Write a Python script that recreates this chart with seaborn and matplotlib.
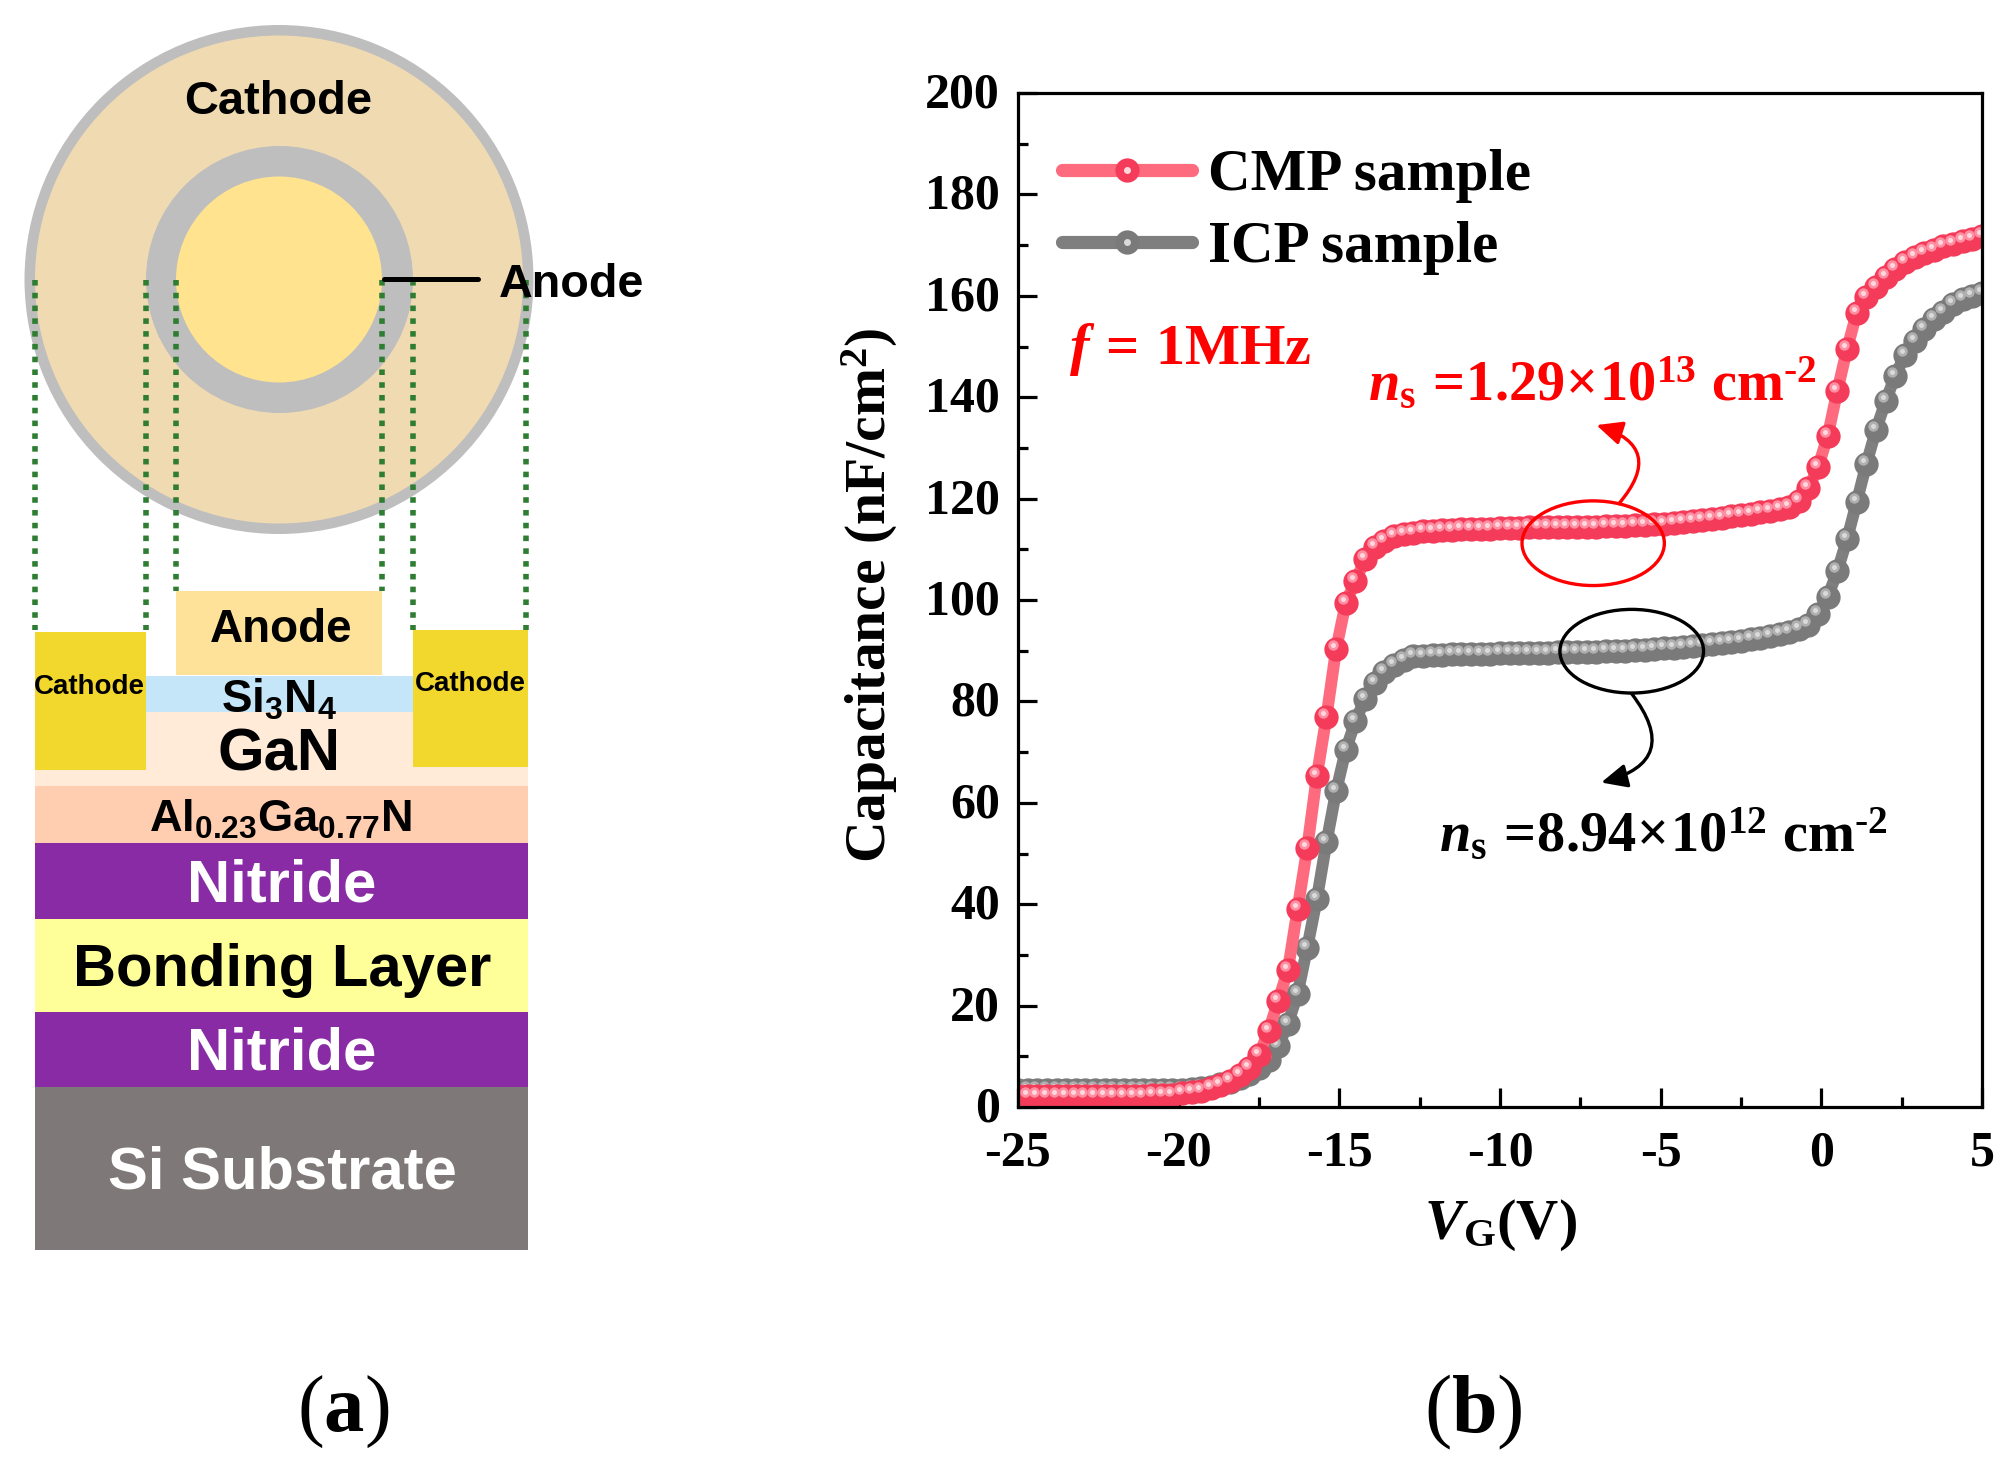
import numpy as np
import pandas as pd
import seaborn as sns
import matplotlib
matplotlib.use("Agg")
import matplotlib.pyplot as plt
from matplotlib.lines import Line2D
from matplotlib.legend_handler import HandlerTuple
from matplotlib.patches import Rectangle, Ellipse
from matplotlib.ticker import MultipleLocator
from matplotlib.transforms import ScaledTranslation

gate_voltage = [
    -25.0, -24.7, -24.4, -24.1, -23.8, -23.5, -23.2, -22.9, -22.6, -22.3,
    -22.0, -21.7, -21.4, -21.1, -20.8, -20.5, -20.2, -19.9, -19.6, -19.3,
    -19.0, -18.7, -18.4, -18.1, -17.8, -17.5, -17.2, -16.9, -16.6, -16.3,
    -16.0, -15.7, -15.4, -15.1, -14.8, -14.5, -14.2, -13.9, -13.6, -13.3,
    -13.0, -12.7, -12.4, -12.1, -11.8, -11.5, -11.2, -10.9, -10.6, -10.3,
    -10.0, -9.7, -9.4, -9.1, -8.8, -8.5, -8.2, -7.9, -7.6, -7.3,
    -7.0, -6.7, -6.4, -6.1, -5.8, -5.5, -5.2, -4.9, -4.6, -4.3,
    -4.0, -3.7, -3.4, -3.1, -2.8, -2.5, -2.2, -1.9, -1.6, -1.3,
    -1.0, -0.7, -0.4, -0.1, 0.2, 0.5, 0.8, 1.1, 1.4, 1.7,
    2.0, 2.3, 2.6, 2.9, 3.2, 3.5, 3.8, 4.1, 4.4, 4.7, 5.0]
cmp_capacitance = [
    2.2, 2.2, 2.2, 2.2, 2.2, 2.2, 2.2, 2.2, 2.2, 2.2,
    2.2, 2.2, 2.2, 2.2, 2.3, 2.3, 2.4, 2.7, 2.9, 3.2,
    3.7, 4.4, 5.2, 6.3, 7.6, 10.2, 15.0, 21.0, 27.0, 39.0,
    51.0, 65.3, 77.0, 90.3, 99.4, 103.7, 108.0, 110.4, 111.6, 112.6,
    113.0, 113.3, 113.6, 113.7, 113.8, 113.9, 114.0, 114.0, 114.1, 114.1,
    114.2, 114.2, 114.2, 114.3, 114.3, 114.3, 114.3, 114.4, 114.4, 114.4,
    114.4, 114.5, 114.5, 114.6, 114.7, 114.8, 114.9, 115.0, 115.2, 115.4,
    115.6, 115.8, 116.0, 116.2, 116.5, 116.7, 117.0, 117.3, 117.6, 118.0,
    118.4, 119.5, 122.0, 126.2, 132.4, 141.3, 149.5, 156.6, 159.7, 161.7,
    163.8, 165.3, 166.6, 167.6, 168.4, 169.1, 169.8, 170.3, 170.8, 171.3, 171.8]
icp_capacitance = [
    3.4, 3.4, 3.4, 3.4, 3.4, 3.4, 3.4, 3.4, 3.4, 3.4,
    3.4, 3.4, 3.4, 3.4, 3.4, 3.4, 3.4, 3.4, 3.5, 3.7,
    4.0, 4.5, 5.0, 5.7, 6.5, 7.7, 9.3, 12.0, 16.4, 22.3,
    31.4, 41.0, 52.2, 62.3, 70.4, 76.1, 80.5, 83.6, 85.8, 87.2,
    88.2, 88.9, 89.0, 89.1, 89.2, 89.3, 89.3, 89.4, 89.4, 89.4,
    89.5, 89.5, 89.5, 89.6, 89.6, 89.6, 89.7, 89.7, 89.7, 89.8,
    89.8, 89.9, 90.0, 90.0, 90.1, 90.2, 90.4, 90.5, 90.6, 90.7,
    90.9, 91.1, 91.3, 91.5, 91.8, 92.0, 92.3, 92.6, 92.9, 93.3,
    93.7, 94.3, 95.1, 97.2, 100.6, 105.7, 112.0, 119.3, 126.8, 133.5,
    139.2, 144.2, 148.3, 151.0, 153.5, 155.4, 156.8, 158.4, 159.3, 159.9, 160.5]

x_ticks = [-25, -20, -15, -10, -5, 0, 5]
x_tick_labels = ["-25", "-20", "-15", "-10", "-5", "0", "5"]
y_ticks = [0, 20, 40, 60, 80, 100, 120, 140, 160, 180, 200]
series_names = ["CMP sample", "ICP sample"]

W, H = 2011, 1473
sns.set_theme(style="white")
plt.rcParams.update({
    "font.family": ["Liberation Serif", "DejaVu Sans"],
    "font.weight": "bold",
    "text.color": "black",
    "axes.labelcolor": "black",
    "xtick.color": "black",
    "ytick.color": "black",
    "axes.unicode_minus": False,
    "mathtext.fontset": "custom",
    "mathtext.rm": "Liberation Serif:bold",
    "mathtext.bf": "Liberation Serif:bold",
    "mathtext.it": "Liberation Serif:italic:bold",
    "mathtext.bfit": "Liberation Serif:italic:bold",
    "mathtext.sf": "Liberation Sans:bold",
})

fig = plt.figure(figsize=(W / 100, H / 100), dpi=100, facecolor="white")

# ---------- panel (a): device schematic, laid out in figure pixels ----------
sch = fig.add_axes([0, 0, 1, 1], zorder=0)
sch.set_xlim(0, W)
sch.set_ylim(H, 0)
sch.axis("off")
SANS = "Liberation Sans"


def box(x0, y0, x1, y1, color):
    sch.add_patch(Rectangle((x0, y0), x1 - x0, y1 - y0, fc=color, ec="none", lw=0))


def disc(cx, cy, r, color, **kw):
    sch.add_patch(Ellipse((cx, cy), 2 * r, 2 * r, fc=color, ec="none", lw=0, **kw))


def label(x, y, s, size, color="black"):
    sch.text(x, y, s, ha="center", va="center", fontsize=size, color=color,
             family=SANS, weight="bold")


disc(279, 279.5, 254.5, "#BEBEBE")
disc(279, 279.5, 244, "#F0DAB2")
disc(279.5, 279.5, 133.5, "#BEBEBE")
disc(279, 279.5, 103, "#FFE38F")

box(35, 785, 528, 1250, "#7F7878")
box(35, 1012, 528, 1087, "#8A2BA6")
box(35, 919, 528, 1012, "#FFFF99")
box(35, 843, 528, 919, "#8A2BA6")
box(35, 786, 528, 843, "#FFCDB0")
box(35, 712, 528, 786, "#FFEBD7")
box(146, 676, 413, 712, "#C5E5F9")
box(176, 591, 382, 675, "#FFE29A")
box(35, 632, 146, 770, "#F2D72C")
box(413, 630, 528, 767, "#F2D72C")

for xd, y_end in [(35, 630), (146, 630), (176, 591), (382, 591), (413, 630), (526, 630)]:
    sch.plot([xd, xd], [280, y_end], color="#2E7D32", lw=4.0, ls=(0, (1, 1.3)),
             solid_capstyle="butt", dash_capstyle="butt")
sch.plot([384, 478], [279, 279], color="black", lw=3.6)

label(278, 102, "Cathode", 33.8)
label(572, 285, "Anode", 33.7)
label(281, 630, "Anode", 33)
label(89, 687, "Cathode", 20)
label(470, 684, "Cathode", 20)
label(279, 700, r"$\mathsf{Si_{3}N_{4}}$", 33)
label(279, 755, "GaN", 43)
label(281, 819, r"$\mathsf{Al_{0.23}Ga_{0.77}N}$", 32.5)
label(282, 886, "Nitride", 43, "white")
label(282, 971, "Bonding Layer", 43)
label(282, 1054, "Nitride", 43, "white")
label(282, 1173, "Si Substrate", 43, "white")

sch.text(343, 1412, r"($\mathbf{a}$)", ha="center", va="center", fontsize=58,
         family="Liberation Serif", weight="normal", color="black")
sch.text(1473, 1412, r"($\mathbf{b}$)", ha="center", va="center", fontsize=59,
         family="Liberation Serif", weight="normal", color="black")

# ---------- panel (b): C-V curves ----------
ax = fig.add_axes([1018 / W, 1 - 1107 / H, 964 / W, 1014 / H], zorder=2)
ax.patch.set_alpha(0)
cv = pd.DataFrame({"V": gate_voltage, "CMP": cmp_capacitance, "ICP": icp_capacitance})

LW, MS = 8.6, 17.5
off1 = ax.transData + ScaledTranslation(-3 / 100, 4 / 100, fig.dpi_scale_trans)
styles = {"ICP": ("#7F7F7F", "#7A7A7A", "#B0B0B0", "#DADADA"),
          "CMP": ("#FF6B7E", "#F43C5A", "#FF8FA2", "#FFD8DE")}
for col in ["ICP", "CMP"]:
    line_c, mark_c, hi_c, core_c = styles[col]
    sns.lineplot(data=cv, x="V", y=col, ax=ax, color=line_c, lw=LW, marker="o",
                 markersize=MS, markerfacecolor=mark_c, markeredgecolor="none",
                 errorbar=None, sort=False, legend=False)
    sns.lineplot(data=cv, x="V", y=col, ax=ax, lw=0, marker="o", markersize=7.5,
                 color=hi_c, markeredgecolor="none", errorbar=None, sort=False,
                 legend=False, transform=off1)
    sns.lineplot(data=cv, x="V", y=col, ax=ax, lw=0, marker="o", markersize=3.6,
                 color=core_c, markeredgecolor="none", errorbar=None, sort=False,
                 legend=False, transform=off1)

ax.set_xlim(-25, 5)
ax.set_ylim(0, 200)
ax.set_xticks(x_ticks)
ax.set_xticklabels(x_tick_labels)
ax.set_yticks(y_ticks)
ax.xaxis.set_minor_locator(MultipleLocator(2.5))
ax.yaxis.set_minor_locator(MultipleLocator(10))
for s in ax.spines.values():
    s.set_visible(True)
    s.set_linewidth(2.3)
    s.set_color("black")
    s.set_zorder(5)
ax.tick_params(axis="both", which="major", direction="in", length=14, width=2.3,
               labelsize=36, colors="black", bottom=True, left=True, top=False, right=False, pad=8)
ax.tick_params(axis="both", which="minor", direction="in", length=7, width=2.3,
               bottom=True, left=True, top=False, right=False)
ax.tick_params(axis="x", which="major", pad=17)
ax.tick_params(axis="y", which="major", pad=13)
for t in ax.get_yticklabels():
    t.set_transform(t.get_transform() + ScaledTranslation(0, 3 / 100, fig.dpi_scale_trans))
ax.set_xlabel(r"$\mathbfit{V}_{\mathbf{G}}\mathbf{(V)}$", fontsize=42, labelpad=15)
ax.set_ylabel(r"$\mathbf{Capacitance\ (nF/cm^{2})}$", fontsize=41.5, labelpad=18, y=0.505)

handles = []
for col in ["CMP", "ICP"]:
    line_c, mark_c, hi_c, core_c = styles[col]
    handles.append((
        Line2D([], [], color=line_c, lw=9.5, solid_capstyle="round"),
        Line2D([], [], lw=0, marker="o", ms=MS, mfc=mark_c, mec="none"),
        Line2D([], [], lw=0, marker="o", ms=5, mfc=core_c, mec="none"),
    ))
ax.legend(handles, series_names, handler_map={tuple: HandlerTuple(ndivide=1, pad=0)},
          loc="upper left", bbox_to_anchor=(1062 / W, 1 - 149 / H),
          bbox_transform=fig.transFigure, frameon=False,
          handlelength=2.2, handletextpad=0.27, labelspacing=0.3, borderpad=0,
          borderaxespad=0, prop={"family": "Liberation Serif", "weight": "bold", "size": 42.5})

RED = "#FF0000"
ax.text(-23.4, 146.5, r"$\mathbfit{f}\,\mathbf{=\,1MHz}$", color=RED, fontsize=42, ha="left", va="baseline")
ax.text(-14.1, 139.5, r"$\mathbfit{n}_{\mathbf{s}}\,\mathbf{=\!1.29\!\times\!10^{13}\ cm^{\text{-}2}}$",
        color=RED, fontsize=40.5, ha="left", va="baseline")
ax.text(-11.9, 50.5, r"$\mathbfit{n}_{\mathbf{s}}\,\mathbf{=\!8.94\!\times\!10^{12}\ cm^{\text{-}2}}$",
        color="black", fontsize=40.5, ha="left", va="baseline")

ax.add_patch(Ellipse((-7.1, 111.2), 4.43, 16.7, fc="none", ec=RED, lw=2.4, zorder=6))
ax.add_patch(Ellipse((-5.9, 89.9), 4.47, 16.5, fc="none", ec="black", lw=2.4, zorder=6))
ax.annotate("", xy=(-7.0, 134.5), xytext=(-6.3, 119),
            arrowprops=dict(arrowstyle="-|>,head_length=1.3,head_width=0.6", color=RED, lw=2.4,
                            connectionstyle="arc3,rad=0.75", shrinkA=0, shrinkB=0))
ax.annotate("", xy=(-6.85, 64), xytext=(-5.9, 81.5),
            arrowprops=dict(arrowstyle="-|>,head_length=1.3,head_width=0.6", color="black", lw=2.4,
                            connectionstyle="arc3,rad=-0.75", shrinkA=0, shrinkB=0))

fig.savefig("out.png", dpi=100)
